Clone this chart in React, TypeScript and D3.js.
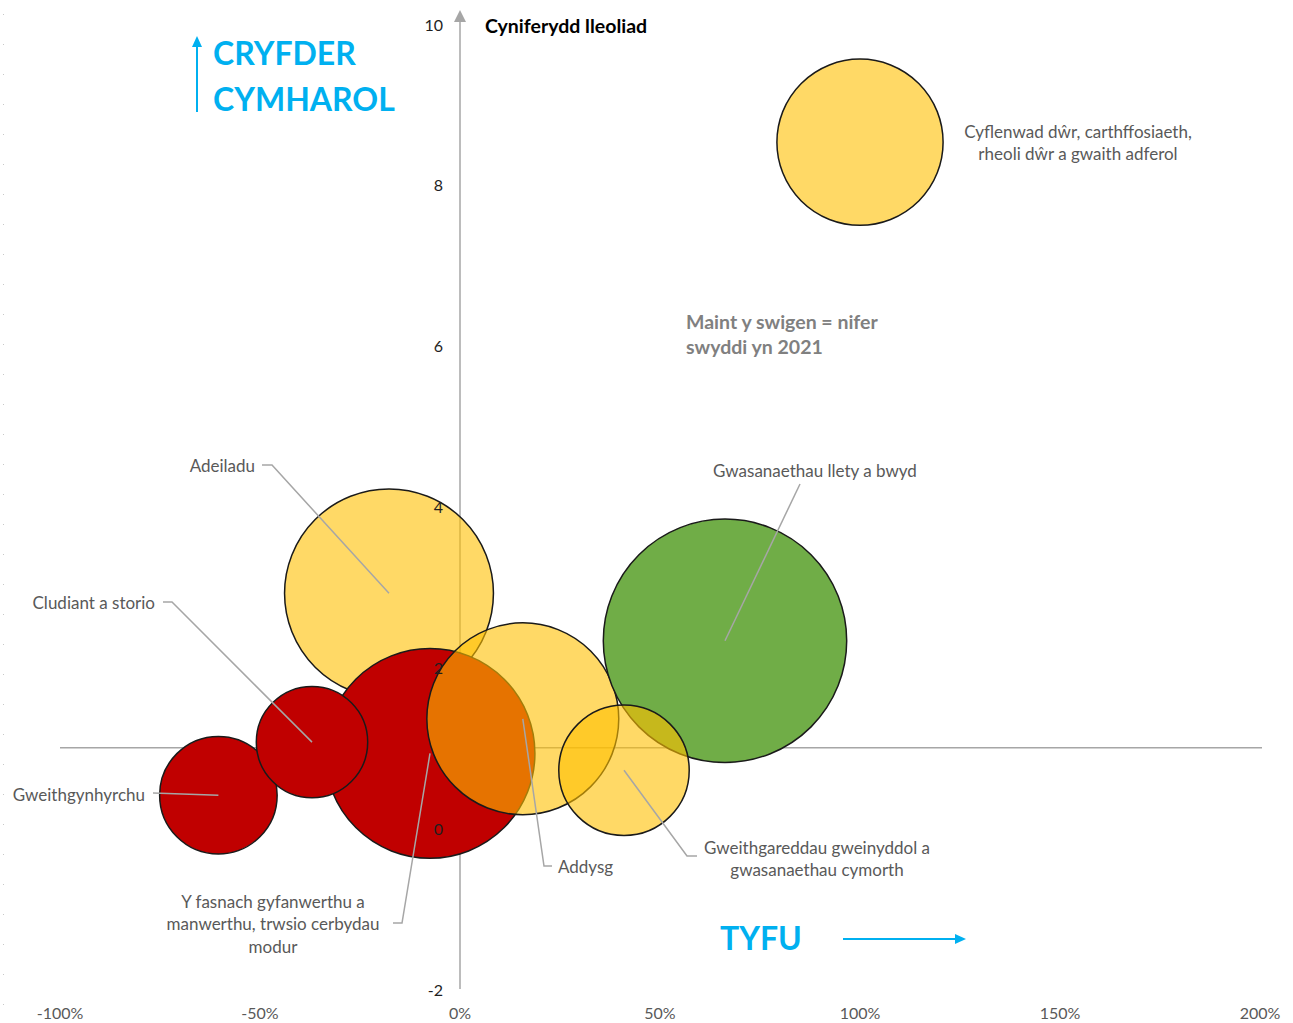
import React, { useEffect, useRef } from "react";
import * as d3 from "d3";

// sector data
const sectors = [
  "Cyflenwad dŵr, carthffosiaeth, rheoli dŵr a gwaith adferol",
  "Adeiladu",
  "Gweithgynhyrchu",
  "Y fasnach gyfanwerthu a manwerthu, trwsio cerbydau modur",
  "Cludiant a storio",
  "Addysg",
  "Gwasanaethau llety a bwyd",
  "Gweithgareddau gweinyddol a gwasanaethau cymorth",
];
const growth = [1.0, -0.1775, -0.604, -0.075, -0.37, 0.157, 0.6625, 0.41];
const lq = [8.53, 2.92, 0.41, 0.93, 1.07, 1.36, 2.33, 0.72];
const jobs = [6900, 10900, 3450, 11000, 3100, 9200, 14800, 4250];
const rag = ["amber", "amber", "red", "red", "red", "amber", "green", "amber"];

const xTicks = [-1, -0.5, 0, 0.5, 1, 1.5, 2];
const yTicks = [-2, 0, 2, 4, 6, 8, 10];

const W = 1293;
const H = 1023;
const FONT = "Lato, 'Open Sans', sans-serif";

const fills: Record<string, { c: string; o: number }> = {
  amber: { c: "#FFC000", o: 0.6 },
  red: { c: "#C00000", o: 1 },
  green: { c: "#70AD47", o: 1 },
};

// label placement (text position + leader start points)
const labelLayout = [
  { lines: ["Cyflenwad dŵr, carthffosiaeth,", "rheoli dŵr a gwaith adferol"], x: 1078, y: 131, anchor: "middle", leader: [] as number[][] },
  { lines: ["Adeiladu"], x: 255, y: 465, anchor: "end", leader: [[262, 465], [272, 465]] },
  { lines: ["Gweithgynhyrchu"], x: 145, y: 794, anchor: "end", leader: [[153, 793]] },
  { lines: ["Y fasnach gyfanwerthu a", "manwerthu, trwsio cerbydau", "modur"], x: 273, y: 901, anchor: "middle", leader: [[393, 923], [402, 923]] },
  { lines: ["Cludiant a storio"], x: 155, y: 602, anchor: "end", leader: [[163, 602], [172, 602]] },
  { lines: ["Addysg"], x: 558, y: 866, anchor: "start", leader: [[552, 866], [544, 866]] },
  { lines: ["Gwasanaethau llety a bwyd"], x: 815, y: 470, anchor: "middle", leader: [[800, 484]] },
  { lines: ["Gweithgareddau gweinyddol a", "gwasanaethau cymorth"], x: 817, y: 847, anchor: "middle", leader: [[697, 856], [687, 856]] },
];

const pct = (d: number) => `${Math.round(d * 100)}%`;

export default function App() {
  const ref = useRef<SVGSVGElement>(null);

  useEffect(() => {
    const svg = d3.select(ref.current);
    svg.selectAll("*").remove();

    const x = d3.scaleLinear().domain([-1, 2]).range([60, 1260]);
    const y = d3.scaleLinear().domain([-2, 10]).range([989, 24]);
    const r = d3.scaleSqrt().domain([0, d3.max(jobs) as number]).range([0, 121.7]);

    svg.append("rect").attr("width", W).attr("height", H).attr("fill", "#fff");

    // faint dotted border on the left
    svg
      .append("line")
      .attr("x1", 3.5)
      .attr("x2", 3.5)
      .attr("y1", 14)
      .attr("y2", H)
      .attr("stroke", "#c8c8c8")
      .attr("stroke-dasharray", "1 29");

    const axisCol = "#a6a6a6";

    // horizontal axis at LQ = 1
    svg
      .append("line")
      .attr("x1", x(-1))
      .attr("x2", x(2) + 2)
      .attr("y1", y(1))
      .attr("y2", y(1))
      .attr("stroke", axisCol)
      .attr("stroke-width", 1.5);

    // vertical axis with arrow
    svg
      .append("line")
      .attr("x1", x(0))
      .attr("x2", x(0))
      .attr("y1", y(-2))
      .attr("y2", y(10) - 10)
      .attr("stroke", axisCol)
      .attr("stroke-width", 1.5);
    svg
      .append("path")
      .attr("d", `M${x(0) - 6},${y(10) - 2} L${x(0)},${y(10) - 14} L${x(0) + 6},${y(10) - 2} Z`)
      .attr("fill", axisCol);

    // bubbles
    const idx = d3.range(sectors.length);
    svg
      .append("g")
      .selectAll("circle")
      .data(idx)
      .join("circle")
      .attr("cx", (i) => x(growth[i]))
      .attr("cy", (i) => y(lq[i]))
      .attr("r", (i) => r(jobs[i]))
      .attr("fill", (i) => fills[rag[i]].c)
      .attr("fill-opacity", (i) => fills[rag[i]].o)
      .attr("stroke", "#1a1a1a")
      .attr("stroke-width", 1.5);

    // y tick labels (drawn over bubbles)
    svg
      .append("g")
      .selectAll("text")
      .data(yTicks)
      .join("text")
      .attr("x", x(0) - 17)
      .attr("y", (d) => y(d))
      .attr("text-anchor", "end")
      .attr("dominant-baseline", "central")
      .attr("font-family", FONT)
      .attr("font-size", 16)
      .attr("fill", "#1f1f1f")
      .text((d) => d);

    // x tick labels
    svg
      .append("g")
      .selectAll("text")
      .data(xTicks)
      .join("text")
      .attr("x", (d) => x(d))
      .attr("y", 1012)
      .attr("text-anchor", "middle")
      .attr("dominant-baseline", "central")
      .attr("font-family", FONT)
      .attr("font-size", 16)
      .attr("fill", "#595959")
      .text((d) => pct(d));

    // leader lines + data labels
    const lab = svg.append("g");
    idx.forEach((i) => {
      const L = labelLayout[i];
      if (L.leader.length) {
        const pts = [...L.leader, [x(growth[i]), y(lq[i])]];
        lab
          .append("path")
          .attr("d", d3.line()(pts as [number, number][]))
          .attr("fill", "none")
          .attr("stroke", axisCol)
          .attr("stroke-width", 1.5);
      }
      L.lines.forEach((t, k) => {
        lab
          .append("text")
          .attr("x", L.x)
          .attr("y", L.y + k * 22.5)
          .attr("text-anchor", L.anchor)
          .attr("dominant-baseline", "central")
          .attr("font-family", FONT)
          .attr("font-size", 17)
          .attr("fill", "#595959")
          .text(t);
      });
    });

    // titles & annotations
    svg
      .append("text")
      .attr("x", 485)
      .attr("y", 25)
      .attr("dominant-baseline", "central")
      .attr("font-family", FONT)
      .attr("font-weight", 700)
      .attr("font-size", 19.5)
      .attr("fill", "#000")
      .text("Cyniferydd lleoliad");

    const blue = "#00B0F0";
    ["CRYFDER", "CYMHAROL"].forEach((t, k) => {
      svg
        .append("text")
        .attr("x", 213)
        .attr("y", 52 + k * 46)
        .attr("dominant-baseline", "central")
        .attr("font-family", FONT)
        .attr("font-weight", 700)
        .attr("font-size", 32)
        .attr("fill", blue)
        .text(t);
    });
    svg
      .append("line")
      .attr("x1", 197)
      .attr("x2", 197)
      .attr("y1", 112)
      .attr("y2", 45)
      .attr("stroke", blue)
      .attr("stroke-width", 2);
    svg.append("path").attr("d", "M192,47 L197,36 L202,47 Z").attr("fill", blue);

    svg
      .append("text")
      .attr("x", 720)
      .attr("y", 937)
      .attr("dominant-baseline", "central")
      .attr("font-family", FONT)
      .attr("font-weight", 700)
      .attr("font-size", 32)
      .attr("fill", blue)
      .text("TYFU");
    svg
      .append("line")
      .attr("x1", 843)
      .attr("x2", 957)
      .attr("y1", 939)
      .attr("y2", 939)
      .attr("stroke", blue)
      .attr("stroke-width", 2);
    svg.append("path").attr("d", "M955,934 L966,939 L955,944 Z").attr("fill", blue);

    ["Maint y swigen = nifer", "swyddi yn 2021"].forEach((t, k) => {
      svg
        .append("text")
        .attr("x", 686)
        .attr("y", 321 + k * 25)
        .attr("dominant-baseline", "central")
        .attr("font-family", FONT)
        .attr("font-weight", 700)
        .attr("font-size", 19.5)
        .attr("fill", "#808080")
        .text(t);
    });
  }, []);

  return (
    <svg
      ref={ref}
      width={W}
      height={H}
      style={{ position: "absolute", left: 0, top: 0 }}
    ></svg>
  );
}
